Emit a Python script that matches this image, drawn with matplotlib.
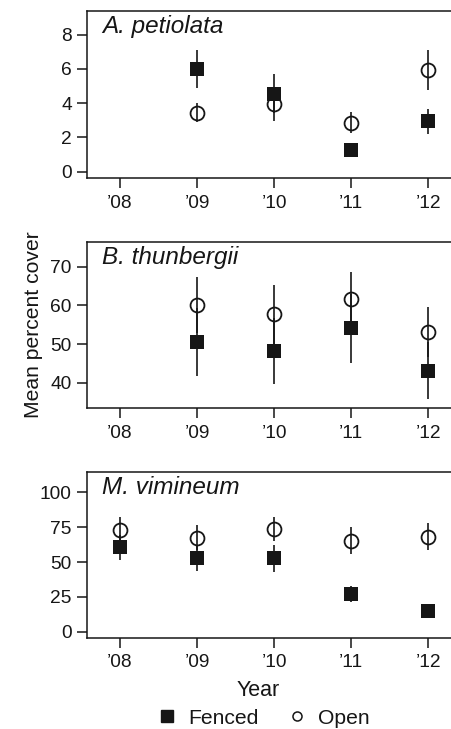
import matplotlib
matplotlib.use("Agg")
import matplotlib.pyplot as plt
from matplotlib.lines import Line2D

plt.rcParams['font.family'] = ['Liberation Sans', 'DejaVu Sans']

years = ["\u201908", "\u201909", "\u201910", "\u201911", "\u201912"]
species = ["A. petiolata", "B. thunbergii", "M. vimineum"]

# fenced means / standard errors (None = no data)
fenced_a = [None, 6.0, 4.55, 1.25, 2.93]
fenced_a_err = [None, 1.1, 1.15, 0.0, 0.72]
open_a = [None, 3.45, 3.95, 2.87, 5.92]
open_a_err = [None, 0.55, 0.98, 0.62, 1.18]

fenced_b = [None, 50.6, 48.3, 54.1, 43.1]
fenced_b_err = [None, 8.8, 8.5, 8.9, 7.4]
open_b = [None, 60.1, 57.7, 61.7, 53.2]
open_b_err = [None, 7.2, 7.6, 7.0, 6.5]

fenced_m = [60.6, 52.7, 52.7, 26.8, 15.1]
fenced_m_err = [9.1, 8.9, 9.7, 5.8, 0.0]
open_m = [73.0, 67.5, 73.7, 65.3, 68.2]
open_m_err = [9.1, 9.1, 8.9, 9.6, 9.7]

yticks_list = [[0, 2, 4, 6, 8], [40, 50, 60, 70], [0, 25, 50, 75, 100]]
ylims = [(-0.37, 9.38), (33.4, 76.5), (-4.3, 114.8)]

fenced = [fenced_a, fenced_b, fenced_m]
fenced_err = [fenced_a_err, fenced_b_err, fenced_m_err]
opened = [open_a, open_b, open_m]
opened_err = [open_a_err, open_b_err, open_m_err]

W, H = 451, 729
fig = plt.figure(figsize=(W / 100, H / 100), dpi=100)

left = 87 / W
width = 373.5 / W
panels = [(11, 178), (241.7, 408.3), (471.7, 637.7)]
col = '#161616'

axes = []
for i, (top, bot) in enumerate(panels):
    ax = fig.add_axes([left, 1 - bot / H, width, (bot - top) / H])
    axes.append(ax)

    xs_o = [j for j, v in enumerate(opened[i]) if v is not None]
    ax.errorbar(xs_o, [opened[i][j] for j in xs_o],
                yerr=[opened_err[i][j] for j in xs_o],
                fmt='o', ms=10, mfc='none', mec=col, mew=1.3,
                ecolor=col, elinewidth=1.2, capsize=0, zorder=2)
    xs_f = [j for j, v in enumerate(fenced[i]) if v is not None]
    ax.errorbar(xs_f, [fenced[i][j] for j in xs_f],
                yerr=[fenced_err[i][j] for j in xs_f],
                fmt='s', ms=10.5, mfc=col, mec=col, mew=0,
                ecolor=col, elinewidth=1.2, capsize=0, zorder=3)

    ax.set_xlim(-0.43, 4.42)
    ax.set_ylim(*ylims[i])
    ax.set_xticks(range(len(years)))
    ax.set_xticklabels(years)
    ax.set_yticks(yticks_list[i])
    ax.tick_params(axis='both', direction='out', length=7, width=1.1,
                   labelsize=13.8, color=col, labelcolor=col, pad=4)
    ax.tick_params(axis='x', pad=5)
    for s in ax.spines.values():
        s.set_linewidth(1.1)
        s.set_color(col)
    ax.text(0.04, 0.975, species[i], transform=ax.transAxes, style='italic',
            fontsize=17.5, va='top', ha='left', color=col)

axes[1].set_ylabel('Mean percent cover', fontsize=15.2, color=col, labelpad=5)
fig.text(258 / W, 1 - 691 / H, 'Year', fontsize=15.5, ha='center',
         va='center', color=col)

handles = [Line2D([], [], ls='none', marker='s', ms=8, mfc=col, mec=col),
           Line2D([], [], ls='none', marker='o', ms=6.5, mfc='none', mec=col,
                  mew=1.1)]
fig.legend(handles, ['Fenced', 'Open'], ncol=2, frameon=False, fontsize=15.2,
           loc='center', bbox_to_anchor=(262 / W, 1 - 718 / H),
           handletextpad=0.4, columnspacing=1.2, handlelength=1.2,
           labelcolor=col)

fig.savefig('out.png', dpi=100)
